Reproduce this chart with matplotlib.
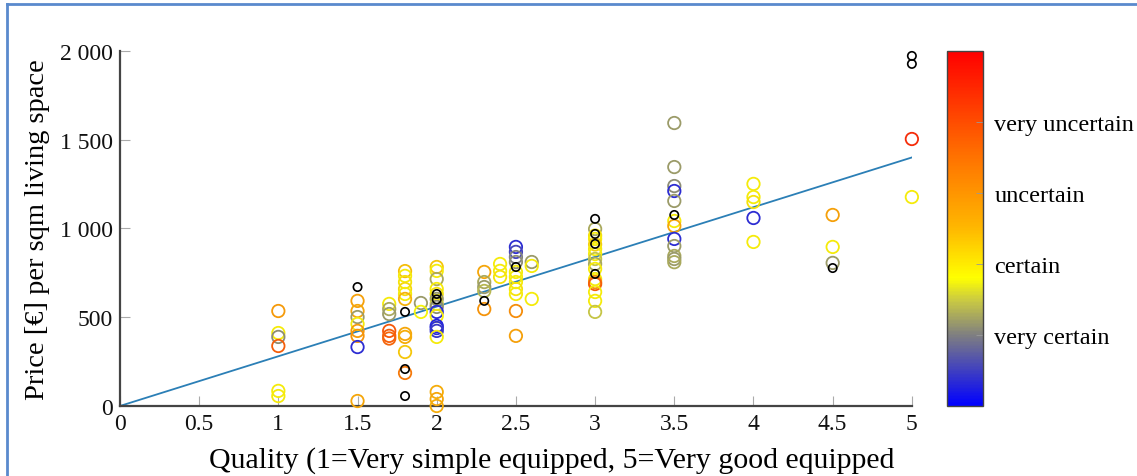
import matplotlib
matplotlib.use("Agg")
import matplotlib.pyplot as plt
import numpy as np
from matplotlib.colors import LinearSegmentedColormap
from matplotlib.lines import Line2D

plt.rcParams['font.family'] = ['Liberation Serif', 'DejaVu Serif']

# quality, price, certainty rating (0 = very certain .. 5 = very uncertain)
quality = [1, 1, 1, 1, 1, 1,
           1.5, 1.5, 1.5, 1.5, 1.5, 1.5, 1.5, 1.5,
           1.7, 1.7, 1.7, 1.7, 1.7, 1.7,
           1.8, 1.8, 1.8, 1.8, 1.8, 1.8, 1.8, 1.8, 1.8, 1.8,
           1.9, 1.9,
           2, 2, 2, 2, 2, 2, 2, 2, 2, 2, 2, 2, 2, 2, 2, 2, 2,
           2.3, 2.3, 2.3, 2.3, 2.3,
           2.4, 2.4, 2.4,
           2.5, 2.5, 2.5, 2.5, 2.5, 2.5, 2.5, 2.5, 2.5, 2.5, 2.5,
           2.6, 2.6, 2.6,
           3, 3, 3, 3, 3, 3, 3, 3, 3, 3, 3, 3, 3, 3, 3,
           3.5, 3.5, 3.5, 3.5, 3.5, 3.5, 3.5, 3.5, 3.5, 3.5, 3.5, 3.5,
           4, 4, 4, 4, 4,
           4.5, 4.5, 4.5,
           5, 5]
price = [535, 411, 389, 338, 85, 56,
         592, 535, 501, 462, 423, 395, 332, 28,
         575, 546, 518, 423, 395, 380,
         760, 733, 698, 659, 631, 603, 406, 389, 304, 186,
         580, 530,
         783, 761, 715, 659, 631, 603, 575, 558, 530, 507, 451, 439, 423, 389, 79, 39, 0,
         755, 698, 670, 648, 546,
         800, 761, 727,
         896, 868, 839, 811, 755, 727, 698, 659, 631, 535, 395,
         811, 789, 603,
         997, 960, 941, 910, 884, 856, 828, 800, 772, 715, 698, 687, 642, 592, 530,
         1594, 1346, 1239, 1211, 1155, 1042, 1014, 941, 901, 845, 828, 810,
         1251, 1177, 1149, 1059, 924,
         1076, 896, 806,
         1504, 1177]
certainty = [2.9, 1.9, 1.1, 3.8, 1.9, 1.9,
             2.8, 2.7, 1.2, 1.9, 2.9, 3.0, 0.3, 2.7,
             1.9, 1.3, 1.2, 3.9, 3.8, 3.7,
             2.4, 1.9, 2.0, 2.1, 1.9, 2.5, 2.7, 2.6, 2.3, 3.4,
             1.2, 1.8,
             2.3, 1.9, 1.3, 1.9, 2.0, 1.2, 1.5, 1.1, 0.3, 1.9, 0.2, 0.3, 0.4, 1.9, 2.6, 2.7, 2.6,
             2.7, 1.3, 1.2, 1.4, 3.0,
             1.9, 1.9, 2.0,
             0.3, 0.5, 1.0, 1.1, 1.9, 1.9, 1.9, 2.0, 1.9, 3.1, 2.8,
             1.2, 1.9, 1.9,
             1.3, 2.0, 1.9, 2.2, 1.9, 1.9, 1.5, 1.3, 1.9, 1.9, 3.0, 3.8, 1.9, 1.9, 1.5,
             1.2, 1.2, 1.1, 0.3, 1.2, 1.9, 2.7, 0.3, 1.2, 1.3, 1.2, 1.3,
             1.9, 1.9, 2.0, 0.3, 1.9,
             2.8, 1.9, 1.2,
             4.5, 1.9]

# offers without a rating (small black circles)
unrated_quality = [1.5, 1.8, 1.8, 1.8, 2, 2, 2.3, 2.5, 3, 3, 3, 3, 3.5, 4.5, 5, 5]
unrated_price = [670, 530, 208, 56, 631, 600, 592, 783, 1054, 969, 913, 744, 1076, 777, 1972, 1927]

# regression line
fit_x = [0, 5]
fit_y = [0, 1400]

cbar_ticks = [1, 2, 3, 4]
cbar_labels = ['very certain', 'certain', 'uncertain', 'very uncertain']

cmap = LinearSegmentedColormap.from_list('certainty', [
    (0.0, (0, 0, 1)),
    (0.2, (0.5, 0.5, 0.5)),
    (0.3, (0.8, 0.8, 0.25)),
    (0.36, (1, 1, 0)),
    (0.5, (1, 0.72, 0)),
    (0.7, (1, 0.45, 0)),
    (1.0, (1, 0, 0)),
])

fig = plt.figure(figsize=(11.37, 4.77), dpi=100)
ax = fig.add_axes([0.1055, 0.1468, 0.6965, 0.7443])

sc = ax.scatter(quality, price, c=certainty, cmap=cmap, vmin=0, vmax=5,
                s=1, alpha=0)
colors = cmap(np.array(certainty) / 5)
colors[:, :3] = colors[:, :3] * 0.92 + 0.04
ax.scatter(quality, price, s=80, facecolors='none', edgecolors=colors,
           linewidths=1.3, zorder=3, clip_on=False)
ax.scatter(unrated_quality, unrated_price, s=36, facecolors='none',
           edgecolors='black', linewidths=1.2, zorder=4, clip_on=False)
ax.plot(fit_x, fit_y, color='#2b7fb6', linewidth=1.3, zorder=2)

ax.set_xlim(0, 5)
ax.set_ylim(0, 2000)
ax.set_xticks(np.arange(0, 5.01, 0.5))
ax.set_xticklabels(['0', '0.5', '1', '1.5', '2', '2.5', '3', '3.5', '4', '4.5', '5'])
ax.set_yticks([0, 500, 1000, 1500, 2000])
ax.set_yticklabels(['0', '500', '1 000', '1 500', '2 000'])
ax.tick_params(direction='in', length=7, width=0.8, color='#aaaaaa',
               labelsize=17, labelcolor='#111111', pad=5)
for side in ['top', 'right']:
    ax.spines[side].set_visible(False)
for side in ['left', 'bottom']:
    ax.spines[side].set_color('#444444')
    ax.spines[side].set_linewidth(1.6)

ax.set_xlabel('Quality (1=Very simple equipped, 5=Very good equipped', fontsize=21.5,
              labelpad=9)
ax.xaxis.label.set_x(0.545)
ax.set_ylabel('Price [€] per sqm living space', fontsize=20.5, labelpad=7)

cax = fig.add_axes([0.833, 0.1468, 0.0317, 0.7443])
cb = fig.colorbar(sc, cax=cax)
cb.solids.set_alpha(1)
cb.set_ticks(cbar_ticks)
cb.set_ticklabels(cbar_labels)
cax.tick_params(direction='in', length=5, width=0.6, color='#999999',
                labelsize=17.5, pad=8)
cb.outline.set_edgecolor('#444444')
cb.outline.set_linewidth(1.0)

# blue frame around the figure
fig.add_artist(Line2D([0.006, 1.0], [0.99, 0.99], transform=fig.transFigure,
                      color='#5a8acd', linewidth=2))
fig.add_artist(Line2D([0.0065, 0.0065], [0.0, 0.99], transform=fig.transFigure,
                      color='#5a8acd', linewidth=2))

fig.savefig('out.png', dpi=100)
